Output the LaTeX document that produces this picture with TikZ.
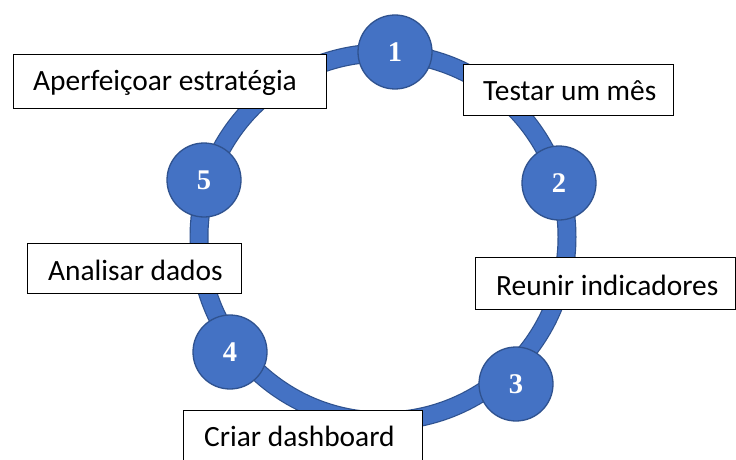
\documentclass[tikz,border=0pt]{standalone}
\usepackage{fontspec}
\setmainfont{Carlito}
\newfontfamily\numfont{Liberation Serif}
\definecolor{ringblue}{HTML}{4472C4}
\definecolor{ringedge}{HTML}{2F528F}
\begin{document}
\begin{tikzpicture}[x=1pt,y=-1pt,
  numcirc/.style={circle, fill=ringblue, draw=ringedge, line width=1.3pt, minimum size=74pt, inner sep=0pt, font=\numfont\bfseries\fontsize{28.5}{28}\selectfont, text=white},
  textbox/.style={draw=black, fill=white, line width=1.1pt, anchor=north west, inner sep=0pt},
  boxlabel/.style={anchor=base west, inner sep=0pt, font=\fontsize{29.4}{30}\selectfont}
]
\clip (0,0) rectangle (736,460);
\fill[white] (0,0) rectangle (736,460);
\coordinate (c) at (383,237);
% ring
\draw[ringedge, line width=19pt] (c) circle[radius=184pt];
\draw[ringblue, line width=16.6pt] (c) circle[radius=184pt];
% text boxes
\node[textbox, minimum width=210pt, minimum height=51pt] (b1) at (463,64) {};
\node[textbox, minimum width=260pt, minimum height=52pt] (b2) at (475,257) {};
\node[textbox, minimum width=239pt, minimum height=70pt] (b3) at (183,410) {};
\node[textbox, minimum width=214pt, minimum height=50pt] (b4) at (27,243) {};
\node[textbox, minimum width=313pt, minimum height=54pt] (b5) at (13,54) {};
\node[boxlabel] (t1) at (483,100.7) {Testar um mês};
\node[boxlabel] (t2) at (496,295) {Reunir indicadores};
\node[boxlabel] (t3) at (204,446) {Criar dashboard};
\node[boxlabel] (t4) at (48,280.7) {Analisar dados};
\node[boxlabel] (t5) at (33,90.7) {Aperfeiçoar estratégia};
% numbered circles
\node[numcirc] (n1) at (395,52) {1};
\node[numcirc] (n2) at (559,183) {2};
\node[numcirc] (n3) at (516,384) {3};
\node[numcirc] (n4) at (230,352) {4};
\node[numcirc] (n5) at (204,180) {5};
\end{tikzpicture}
\end{document}
